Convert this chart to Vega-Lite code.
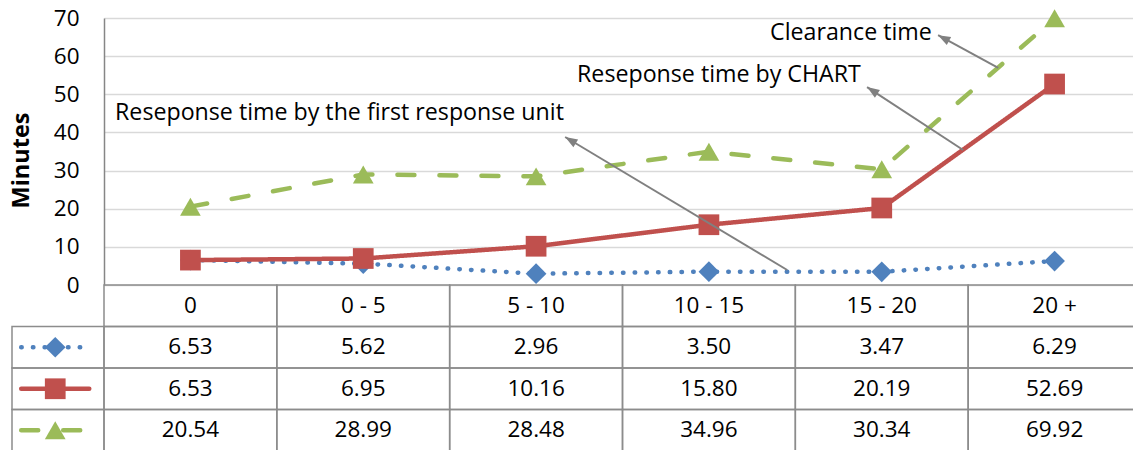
{
  "$schema": "https://vega.github.io/schema/vega-lite/v6.json",
  "autosize": "none",
  "width": 1037,
  "height": 433,
  "padding": {"left": 104, "top": 18, "right": 0, "bottom": 0},
  "background": "white",
  "config": {
    "font": "Open Sans",
    "view": {"stroke": null},
    "text": {"font": "Open Sans", "fontSize": 22.5, "color": "#000000"}
  },
  "datasets": {
    "times": [
      {"series": "first", "range": "0", "minutes": 6.53},
      {"series": "first", "range": "0 - 5", "minutes": 5.62},
      {"series": "first", "range": "5 - 10", "minutes": 2.96},
      {"series": "first", "range": "10 - 15", "minutes": 3.50},
      {"series": "first", "range": "15 - 20", "minutes": 3.47},
      {"series": "first", "range": "20 +", "minutes": 6.29},
      {"series": "chart", "range": "0", "minutes": 6.53},
      {"series": "chart", "range": "0 - 5", "minutes": 6.95},
      {"series": "chart", "range": "5 - 10", "minutes": 10.16},
      {"series": "chart", "range": "10 - 15", "minutes": 15.80},
      {"series": "chart", "range": "15 - 20", "minutes": 20.19},
      {"series": "chart", "range": "20 +", "minutes": 52.69},
      {"series": "clear", "range": "0", "minutes": 20.54},
      {"series": "clear", "range": "0 - 5", "minutes": 28.99},
      {"series": "clear", "range": "5 - 10", "minutes": 28.48},
      {"series": "clear", "range": "10 - 15", "minutes": 34.96},
      {"series": "clear", "range": "15 - 20", "minutes": 30.34},
      {"series": "clear", "range": "20 +", "minutes": 69.92}
    ],
    "ranges": [
      {"range": "0"}, {"range": "0 - 5"}, {"range": "5 - 10"},
      {"range": "10 - 15"}, {"range": "15 - 20"}, {"range": "20 +"}
    ],
    "keys": [{"series": "first"}, {"series": "chart"}, {"series": "clear"}],
    "notes": [
      {"note": "Reseponse time by the first response unit", "cx": -0.436, "m": 45.1},
      {"note": "Reseponse time by CHART", "cx": 2.237, "m": 55.06},
      {"note": "Clearance time", "cx": 3.354, "m": 66.07}
    ],
    "arrows": [
      {"cx": 3.453, "m": 3.93, "cx2": 2.168, "m2": 38.8},
      {"cx": 4.471, "m": 35.4, "cx2": 3.915, "m2": 51.9},
      {"cx": 4.674, "m": 56.9, "cx2": 4.326, "m2": 65.5}
    ]
  },
  "layer": [
    {
      "data": {"name": "times"},
      "encoding": {
        "x": {
          "field": "range", "type": "nominal", "sort": null,
          "scale": {"type": "point", "padding": 0.5,
            "domain": ["0", "0 - 5", "5 - 10", "10 - 15", "15 - 20", "20 +"]},
          "axis": null
        },
        "y": {
          "field": "minutes", "type": "quantitative",
          "scale": {"domain": [0, 70], "range": [267, 0], "nice": false, "zero": true},
          "axis": {
            "orient": "left",
            "values": [0, 10, 20, 30, 40, 50, 60, 70],
            "ticks": false,
            "labelFont": "Open Sans",
            "labelFontSize": 22.5,
            "labelColor": "#000000",
            "labelPadding": 25,
            "domainColor": "#868686",
            "domainWidth": 1.5,
            "grid": true,
            "gridColor": "#D9D9D9",
            "gridWidth": 1.5,
            "title": "Minutes",
            "titleFont": "Open Sans",
            "titleFontSize": 23.5,
            "titleFontWeight": "bold",
            "titleColor": "#000000",
            "titlePadding": 20,
            "titleY": 142
          }
        },
        "color": {
          "field": "series", "type": "nominal",
          "scale": {"domain": ["first", "chart", "clear"], "range": ["#4F81BD", "#C0504D", "#9BBB59"]},
          "legend": null
        }
      },
      "layer": [
        {
          "mark": {"type": "line", "strokeWidth": 4.5, "strokeCap": "round", "strokeJoin": "round"},
          "encoding": {
            "order": {"value": null},
            "strokeDash": {
              "field": "series", "type": "nominal",
              "scale": {"domain": ["first", "chart", "clear"], "range": [[0.5, 11.2], [1, 0], [17, 25]]},
              "legend": null
            }
          }
        },
        {
          "mark": {"type": "point", "filled": true, "opacity": 1, "size": 430},
          "encoding": {
            "shape": {
              "field": "series", "type": "nominal",
              "scale": {"domain": ["first", "chart", "clear"], "range": ["diamond", "square", "triangle-up"]},
              "legend": null
            }
          }
        }
      ]
    },
    {
      "layer": [
        {
          "data": {"name": "times"},
          "mark": {"type": "rect", "fill": "transparent", "stroke": "#8C8C8C", "strokeWidth": 1.5},
          "encoding": {
            "x": {"field": "range", "type": "nominal", "sort": null,
              "scale": {"type": "band", "paddingInner": 0, "paddingOuter": 0,
                "domain": ["0", "0 - 5", "5 - 10", "10 - 15", "15 - 20", "20 +"]}, "axis": null},
            "y": {"field": "series", "type": "nominal", "sort": null,
              "scale": {"type": "band", "paddingInner": 0, "paddingOuter": 0, "range": [267, 433],
                "domain": ["header", "first", "chart", "clear"]}, "axis": null}
          }
        },
        {
          "data": {"name": "ranges"},
          "mark": {"type": "rect", "fill": "transparent", "stroke": "#8C8C8C", "strokeWidth": 1.5},
          "encoding": {
            "x": {"field": "range", "type": "nominal", "sort": null, "axis": null},
            "y": {"datum": "header", "type": "nominal", "axis": null}
          }
        },
        {
          "data": {"name": "ranges"},
          "mark": {"type": "text", "align": "center", "baseline": "middle", "fontSize": 22.5},
          "encoding": {
            "x": {"field": "range", "type": "nominal", "sort": null, "axis": null},
            "y": {"datum": "header", "type": "nominal", "axis": null},
            "text": {"field": "range"}
          }
        },
        {
          "data": {"name": "times"},
          "mark": {"type": "text", "align": "center", "baseline": "middle", "fontSize": 22.5},
          "encoding": {
            "x": {"field": "range", "type": "nominal", "sort": null, "axis": null},
            "y": {"field": "series", "type": "nominal", "sort": null, "axis": null},
            "text": {"field": "minutes", "type": "quantitative", "format": ".2f"}
          }
        }
      ]
    },
    {
      "data": {"name": "keys"},
      "layer": [
        {
          "mark": {"type": "rect", "fill": "transparent", "stroke": "#8C8C8C", "strokeWidth": 1.5},
          "encoding": {
            "x": {"datum": 0, "type": "quantitative",
              "scale": {"domain": [0, 1], "range": [-92, 0], "nice": false, "zero": false}, "axis": null},
            "x2": {"datum": 1},
            "y": {"field": "series", "type": "nominal", "sort": null,
              "scale": {"type": "band", "paddingInner": 0, "paddingOuter": 0, "range": [267, 433],
                "domain": ["header", "first", "chart", "clear"]}, "axis": null}
          }
        },
        {
          "mark": {"type": "rule", "strokeWidth": 4.5, "strokeCap": "round"},
          "encoding": {
            "x": {"datum": 0.1, "type": "quantitative", "axis": null},
            "x2": {"datum": 0.84},
            "y": {"field": "series", "type": "nominal", "sort": null, "axis": null},
            "color": {"field": "series", "type": "nominal", "legend": null},
            "strokeDash": {"field": "series", "type": "nominal", "legend": null}
          }
        },
        {
          "mark": {"type": "point", "filled": true, "opacity": 1, "size": 430},
          "encoding": {
            "x": {"datum": 0.47, "type": "quantitative", "axis": null},
            "y": {"field": "series", "type": "nominal", "sort": null, "axis": null},
            "color": {"field": "series", "type": "nominal", "legend": null},
            "shape": {"field": "series", "type": "nominal", "legend": null}
          }
        }
      ]
    },
    {
      "layer": [
        {
          "data": {"name": "notes"},
          "mark": {"type": "text", "align": "left", "baseline": "middle", "fontSize": 23.2},
          "encoding": {
            "x": {"field": "cx", "type": "quantitative",
              "scale": {"domain": [-0.5, 5.5], "nice": false, "zero": false}, "axis": null},
            "y": {"field": "m", "type": "quantitative",
              "scale": {"domain": [0, 70], "range": [267, 0], "nice": false, "zero": false}, "axis": null},
            "text": {"field": "note"}
          }
        },
        {
          "data": {"name": "arrows"},
          "mark": {"type": "rule", "color": "#808080", "strokeWidth": 2},
          "encoding": {
            "x": {"field": "cx", "type": "quantitative", "axis": null},
            "y": {"field": "m", "type": "quantitative", "axis": null},
            "x2": {"field": "cx2"},
            "y2": {"field": "m2"}
          }
        },
        {
          "data": {"name": "arrows"},
          "transform": [
            {"calculate": "atan2((datum.cx2 - datum.cx) * 172.83, (datum.m2 - datum.m) * 3.814) * 180 / PI", "as": "heading"}
          ],
          "mark": {"type": "point", "shape": "M0,0L-0.7,1.9L0.7,1.9Z", "filled": true, "color": "#808080", "opacity": 1, "size": 170},
          "encoding": {
            "x": {"field": "cx2", "type": "quantitative", "axis": null},
            "y": {"field": "m2", "type": "quantitative", "axis": null},
            "angle": {"field": "heading", "type": "quantitative", "scale": null}
          }
        }
      ]
    }
  ],
  "resolve": {"scale": {"x": "independent", "y": "independent"}}
}
